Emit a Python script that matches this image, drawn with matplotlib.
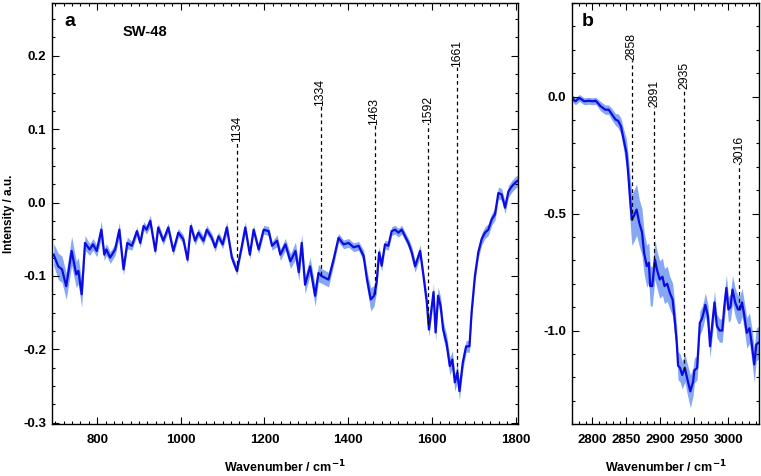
import numpy as np
import matplotlib
matplotlib.use("Agg")
import matplotlib.pyplot as plt
from matplotlib.ticker import MultipleLocator

plt.rcParams['font.family'] = ['Liberation Sans', 'DejaVu Sans']
plt.rcParams['axes.unicode_minus'] = False

# panel a: 700-1800 cm-1
wn_a = [696, 707, 716, 726, 739, 750, 755, 763, 771, 782, 790, 799, 810, 817, 822, 831,
        843, 853, 863, 872, 883, 895, 903, 911, 918, 927, 939, 946, 958, 970, 982, 994,
        1006, 1016, 1024, 1034, 1042, 1054, 1062, 1074, 1082, 1090, 1100, 1110, 1122, 1134,
        1146, 1154, 1165, 1174, 1186, 1198, 1210, 1218, 1230, 1238, 1250, 1262, 1274, 1282,
        1289, 1297, 1309, 1321, 1329, 1336, 1353, 1365, 1377, 1389, 1401, 1413, 1425, 1437,
        1445, 1454, 1462, 1468, 1474, 1480, 1488, 1496, 1504, 1512, 1520, 1528, 1536, 1544,
        1552, 1560, 1572, 1580, 1588, 1593, 1600, 1604, 1609, 1615, 1621, 1627, 1635, 1643,
        1649, 1655, 1661, 1666, 1674, 1682, 1690, 1695, 1703, 1711, 1719, 1727, 1735, 1743,
        1751, 1759, 1767, 1775, 1783, 1791, 1799, 1806]
int_a = [-0.071, -0.087, -0.091, -0.114, -0.066, -0.098, -0.093, -0.125, -0.055, -0.064,
         -0.057, -0.066, -0.037, -0.071, -0.064, -0.075, -0.064, -0.037, -0.091, -0.055,
         -0.059, -0.039, -0.055, -0.032, -0.037, -0.025, -0.066, -0.034, -0.052, -0.034,
         -0.066, -0.041, -0.050, -0.078, -0.032, -0.052, -0.041, -0.052, -0.037, -0.048,
         -0.061, -0.046, -0.057, -0.034, -0.075, -0.093, -0.059, -0.034, -0.071, -0.037,
         -0.064, -0.037, -0.039, -0.059, -0.052, -0.071, -0.057, -0.080, -0.066, -0.095,
         -0.055, -0.112, -0.087, -0.127, -0.096, -0.100, -0.105, -0.078, -0.048, -0.057,
         -0.055, -0.061, -0.059, -0.073, -0.105, -0.132, -0.127, -0.109, -0.068, -0.086,
         -0.057, -0.059, -0.039, -0.037, -0.041, -0.037, -0.046, -0.055, -0.068, -0.087,
         -0.066, -0.100, -0.136, -0.173, -0.141, -0.122, -0.177, -0.127, -0.141, -0.173,
         -0.191, -0.223, -0.214, -0.245, -0.232, -0.257, -0.218, -0.196, -0.196, -0.150,
         -0.100, -0.068, -0.050, -0.041, -0.037, -0.023, -0.016, 0.013, 0.011, -0.007,
         0.015, 0.022, 0.027, 0.030]
err_a = [0.015, 0.018, 0.018, 0.018, 0.020, 0.018, 0.018, 0.018, 0.010, 0.008,
         0.008, 0.008, 0.012, 0.008, 0.008, 0.008, 0.008, 0.010, 0.008, 0.008,
         0.006, 0.006, 0.006, 0.006, 0.006, 0.008, 0.006, 0.006, 0.006, 0.006,
         0.006, 0.006, 0.006, 0.006, 0.006, 0.006, 0.006, 0.006, 0.006, 0.006,
         0.006, 0.006, 0.006, 0.008, 0.006, 0.006, 0.006, 0.008, 0.006, 0.006,
         0.006, 0.006, 0.006, 0.006, 0.008, 0.008, 0.008, 0.010, 0.012, 0.012,
         0.012, 0.012, 0.012, 0.014, 0.012, 0.010, 0.010, 0.008, 0.006, 0.006,
         0.006, 0.006, 0.006, 0.008, 0.012, 0.016, 0.014, 0.012, 0.008, 0.008,
         0.006, 0.006, 0.006, 0.006, 0.006, 0.006, 0.006, 0.006, 0.008, 0.008,
         0.008, 0.008, 0.010, 0.010, 0.010, 0.012, 0.012, 0.012, 0.012, 0.012,
         0.012, 0.012, 0.012, 0.012, 0.012, 0.012, 0.010, 0.008, 0.008, 0.008,
         0.008, 0.008, 0.008, 0.008, 0.008, 0.008, 0.008, 0.008, 0.008, 0.008,
         0.008, 0.008, 0.008, 0.008]

# panel b: C-H stretching region
wn_b = [2770, 2775, 2781, 2788, 2795, 2800, 2805, 2812, 2819, 2824, 2829, 2834, 2838,
        2842, 2846, 2850, 2853, 2855.5, 2858, 2861, 2865, 2869, 2873, 2876, 2880, 2883,
        2885, 2888, 2892, 2895, 2899, 2903, 2906, 2910, 2914, 2918, 2921, 2924, 2926,
        2929, 2932, 2936, 2939, 2944, 2948, 2950, 2954, 2958, 2961, 2963.5, 2966, 2970,
        2973, 2976, 2979.5, 2983, 2987, 2991, 2994, 2997, 3000, 3003, 3006, 3010, 3014,
        3017, 3020, 3023, 3027, 3031, 3034, 3038, 3041, 3045]
int_b = [-0.006, -0.020, -0.006, -0.020, -0.018, -0.020, -0.018, -0.041, -0.056, -0.056,
         -0.077, -0.098, -0.104, -0.127, -0.184, -0.240, -0.340, -0.440, -0.526, -0.510,
         -0.483, -0.540, -0.580, -0.668, -0.725, -0.710, -0.810, -0.810, -0.697, -0.740,
         -0.782, -0.770, -0.810, -0.800, -0.840, -0.868, -0.953, -1.050, -1.150, -1.160,
         -1.190, -1.160, -1.200, -1.260, -1.220, -1.170, -1.160, -0.967, -0.950, -0.924,
         -0.890, -0.940, -1.067, -0.980, -0.880, -0.980, -1.000, -1.000, -0.896, -0.818,
         -0.910, -0.900, -0.825, -0.880, -0.910, -0.910, -0.880, -0.930, -1.010, -0.990,
         -1.050, -1.145, -1.060, -1.050]
err_b = [0.015, 0.015, 0.015, 0.015, 0.015, 0.015, 0.015, 0.020, 0.020, 0.020,
         0.025, 0.025, 0.030, 0.035, 0.045, 0.060, 0.080, 0.100, 0.110, 0.110,
         0.110, 0.100, 0.100, 0.090, 0.090, 0.085, 0.085, 0.085, 0.085, 0.080,
         0.080, 0.080, 0.075, 0.075, 0.070, 0.070, 0.070, 0.065, 0.060, 0.060,
         0.060, 0.060, 0.065, 0.070, 0.060, 0.055, 0.050, 0.050, 0.050, 0.050,
         0.050, 0.050, 0.050, 0.050, 0.050, 0.050, 0.050, 0.050, 0.055, 0.055,
         0.055, 0.055, 0.060, 0.060, 0.060, 0.060, 0.060, 0.060, 0.065, 0.065,
         0.070, 0.075, 0.070, 0.070]

peaks_a = [1134, 1334, 1463, 1592, 1661]
label_top_a = [0.082, 0.131, 0.106, 0.109, 0.185]
peaks_b = [2858, 2891, 2935, 3016]
label_top_b = [0.158, -0.043, 0.033, -0.282]

line_col = '#0c0ce2'
band_col = '#86a8f2'

fig = plt.figure(figsize=(7.61, 4.76), dpi=100)
ax_a = fig.add_axes([0.0683, 0.109, 0.6124, 0.8847])
ax_b = fig.add_axes([0.7516, 0.109, 0.2458, 0.8847])


def draw_panel(ax, wn, val, err, peaks, tops):
    wn = np.array(wn)
    val = np.array(val)
    err = np.array(err)
    ax.fill_between(wn, val - err, val + err, color=band_col, lw=0, zorder=1)
    ax.plot(wn, val, color=line_col, lw=1.6, zorder=2)
    for p, top in zip(peaks, tops):
        bottom = np.interp(p, wn, val)
        ax.plot([p, p], [bottom, top], color='black', lw=0.9, ls=(0, (3, 2.5)), zorder=3)
        ax.text(p, top, str(p), rotation=90, ha='center', va='bottom', fontsize=8.8)
    ax.tick_params(which='both', direction='in', top=True, right=True,
                   labelsize=9.5, width=0.8)
    ax.tick_params(which='major', length=5)
    ax.tick_params(which='minor', length=2.5)
    ax.tick_params(axis='x', which='both', pad=7)
    ax.tick_params(axis='y', which='both', pad=4)
    for s in ax.spines.values():
        s.set_linewidth(1.0)
    ax.set_xlabel('Wavenumber / cm$^{\\mathbf{-1}}$', fontsize=9, fontweight='bold', labelpad=9)


draw_panel(ax_a, wn_a, int_a, err_a, peaks_a, label_top_a)
ax_a.xaxis.set_minor_locator(MultipleLocator(20))
ax_a.yaxis.set_minor_locator(MultipleLocator(0.025))
ax_a.set_yticks([-0.3, -0.2, -0.1, 0.0, 0.1, 0.2])
ax_a.set_yticklabels(['-0.3', '-0.2', '-0.1', '0.0', '0.1', '0.2'], fontweight='bold')
ax_a.set_xticks([800, 1000, 1200, 1400, 1600, 1800])
ax_a.set_xticklabels(['800', '1000', '1200', '1400', '1600', '1800'], fontweight='bold')
ax_a.set_xlim(692, 1806)
ax_a.set_ylim(-0.302, 0.272)
ax_a.set_ylabel('Intensity / a.u.', fontsize=8.5, fontweight='bold', labelpad=6)
ax_a.text(0.027, 0.977, 'a', transform=ax_a.transAxes, fontsize=14, fontweight='bold',
          ha='left', va='top')
ax_a.text(0.152, 0.931, 'SW-48', transform=ax_a.transAxes, fontsize=10.5, fontweight='bold',
          ha='left', va='center')

draw_panel(ax_b, wn_b, int_b, err_b, peaks_b, label_top_b)
ax_b.xaxis.set_minor_locator(MultipleLocator(10))
ax_b.yaxis.set_minor_locator(MultipleLocator(0.1))
ax_b.set_yticks([-1.0, -0.5, 0.0])
ax_b.set_yticklabels(['-1.0', '-0.5', '0.0'], fontweight='bold')
ax_b.set_xticks([2800, 2850, 2900, 2950, 3000])
ax_b.set_xticklabels(['2800', '2850', '2900', '2950', '3000'], fontweight='bold')
ax_b.set_xlim(2770, 3045)
ax_b.set_ylim(-1.40, 0.40)
ax_b.text(0.053, 0.977, 'b', transform=ax_b.transAxes, fontsize=14, fontweight='bold',
          ha='left', va='top')

fig.savefig('out.png', dpi=100)
